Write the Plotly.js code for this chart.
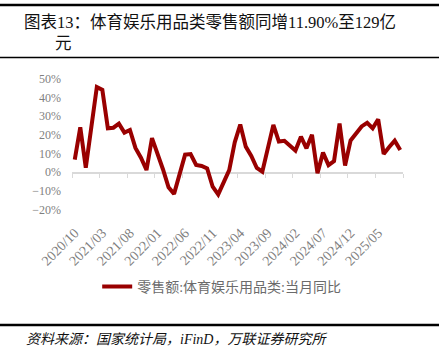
<!DOCTYPE html>
<html>
<head>
<meta charset="utf-8">
<script src="https://cdn.plot.ly/plotly-3.0.1.min.js"></script>
<style>
  html, body { margin: 0; padding: 0; background: #fff; }
  #chart { width: 439px; height: 353px; }
</style>
</head>
<body>
<div id="chart"></div>
<script>
// ---- data ----
const months = [
  '2020/10','2020/11','2020/12',
  '2021/01','2021/02','2021/03','2021/04','2021/05','2021/06','2021/07','2021/08','2021/09','2021/10','2021/11','2021/12',
  '2022/01','2022/02','2022/03','2022/04','2022/05','2022/06','2022/07','2022/08','2022/09','2022/10','2022/11','2022/12',
  '2023/01','2023/02','2023/03','2023/04','2023/05','2023/06','2023/07','2023/08','2023/09','2023/10','2023/11','2023/12',
  '2024/01','2024/02','2024/03','2024/04','2024/05','2024/06','2024/07','2024/08','2024/09','2024/10','2024/11','2024/12',
  '2025/01','2025/02','2025/03','2025/04','2025/05','2025/06','2025/07','2025/08','2025/09'
];
// 零售额:体育娱乐用品类:当月同比 (%), January not published (null)
const yoy = [
  6.8, 24.0, 2.5,
  null, 45.5, 44.0, 23.5, 23.8, 26.0, 21.2, 22.6, 13.0, 7.8, 1.2, 18.2,
  null, 1.5, -8.0, -11.5, -1.0, 9.4, 9.7, 3.9, 3.4, 2.1, -7.7, -11.8,
  null, 1.2, 16.0, 25.5, 13.7, 8.7, 2.3, 0.3, 13.0, 25.3, 16.4, 16.8,
  null, 11.6, 19.0, 12.8, 20.0, -0.5, 10.5, 3.8, 6.0, 26.0, 3.6, 17.0,
  null, 24.5, 26.4, 23.5, 28.3, 9.8, 13.5, 16.9, 11.9
];
const seriesName = '零售额:体育娱乐用品类:当月同比';
const yTicks = [-20, -10, 0, 10, 20, 30, 40, 50];
const yTickText = ['\u221220%', '\u221210%', '0%', '10%', '20%', '30%', '40%', '50%'];
const titleLine1 = '图表13：体育娱乐用品类零售额同增11.90%至129亿';
const titleLine2 = '元';
const sourceText = '资料来源：国家统计局，iFinD，万联证券研究所';

// ---- layout helpers ----
const FIG_W = 439, FIG_H = 353;
const L = 72, T = 73, W = 331, H = 148;
const px = x => (x - L) / W;
const py = y => (T + H - y) / H;
const YMIN = -26, YMAX = 53;

const labelMonths = months.filter((m, i) => i % 5 === 0);
const boundaries = [];
for (let i = 0; i <= months.length; i += 5) boundaries.push(i - 0.5);
if (boundaries[boundaries.length - 1] !== months.length - 0.5) boundaries.push(months.length - 0.5);

const SERIF = '"Liberation Serif", "Times New Roman", "Noto Sans CJK SC", serif';
const CJK = '"Liberation Serif", "Noto Sans CJK SC", sans-serif';

// invisible helper trace so that the zero-crossing axis (x2) is drawn
const axisHelper = {
  type: 'scatter', mode: 'lines', xaxis: 'x2', yaxis: 'y',
  x: boundaries, y: boundaries.map(() => null),
  showlegend: false, hoverinfo: 'skip', line: { width: 0 }
};

const trace = {
  type: 'scatter', mode: 'lines',
  x: months, y: yoy, name: seriesName,
  connectgaps: true,
  line: { color: '#990000', width: 4, shape: 'linear' },
  hoverinfo: 'x+y'
};

const layout = {
  width: FIG_W, height: FIG_H,
  margin: { l: L, r: FIG_W - L - W, t: T, b: FIG_H - T - H, pad: 0 },
  paper_bgcolor: '#fff', plot_bgcolor: '#fff',
  font: { family: SERIF, color: '#7f7f7f' },
  showlegend: true,
  legend: {
    orientation: 'h', xref: 'container', yref: 'container',
    x: 0.505, y: 1 - 287 / FIG_H, xanchor: 'center', yanchor: 'middle',
    font: { family: CJK, size: 14, color: '#6b6b6b' },
    itemwidth: 30, bgcolor: 'rgba(0,0,0,0)'
  },
  xaxis: {
    type: 'category', range: [-0.5, months.length - 0.5], autorange: false,
    tickmode: 'array', tickvals: labelMonths, ticktext: labelMonths,
    tickangle: -45, ticks: '', showline: false, showgrid: false, zeroline: false,
    tickfont: { family: SERIF, size: 14, color: '#7f7f7f' },
    automargin: false, fixedrange: true
  },
  xaxis2: {
    overlaying: 'x', anchor: 'free', position: (0 - YMIN) / (YMAX - YMIN),
    range: [-0.5, months.length - 0.5], autorange: false,
    tickmode: 'array', tickvals: boundaries,
    ticks: 'outside', ticklen: 4, tickwidth: 1, tickcolor: '#d9d9d9',
    showline: true, linecolor: '#d9d9d9', linewidth: 1.5,
    showticklabels: false, showgrid: false, zeroline: false,
    layer: 'below traces', fixedrange: true
  },
  yaxis: {
    range: [YMIN, YMAX], autorange: false,
    tickmode: 'array', tickvals: yTicks, ticktext: yTickText,
    showgrid: false, zeroline: false, showline: false, ticks: '',
    ticklabelstandoff: 10,
    tickfont: { family: SERIF, size: 12, color: '#7f7f7f' },
    automargin: false, fixedrange: true
  },
  shapes: [
    { type: 'line', xref: 'paper', yref: 'paper', x0: px(0), x1: px(439), y0: py(5), y1: py(5), line: { color: '#000', width: 2.5 } },
    { type: 'line', xref: 'paper', yref: 'paper', x0: px(0), x1: px(439), y0: py(57.5), y1: py(57.5), line: { color: '#000', width: 1.5 } },
    { type: 'line', xref: 'paper', yref: 'paper', x0: px(0), x1: px(439), y0: py(325), y1: py(325), line: { color: '#000', width: 2.5 } }
  ],
  annotations: [
    { xref: 'paper', yref: 'paper', x: px(22), y: py(22), xanchor: 'left', yanchor: 'middle', showarrow: false,
      text: titleLine1, font: { family: CJK, size: 16.5, color: '#111' } },
    { xref: 'paper', yref: 'paper', x: px(53), y: py(44), xanchor: 'left', yanchor: 'middle', showarrow: false,
      text: titleLine2, font: { family: CJK, size: 16.5, color: '#111' } },
    { xref: 'paper', yref: 'paper', x: px(24), y: py(339), xanchor: 'left', yanchor: 'middle', showarrow: false,
      text: sourceText, font: { family: CJK, size: 14, color: '#111', style: 'italic' } }
  ]
};

Plotly.newPlot('chart', [axisHelper, trace], layout, { staticPlot: true, displayModeBar: false });
</script>
</body>
</html>
